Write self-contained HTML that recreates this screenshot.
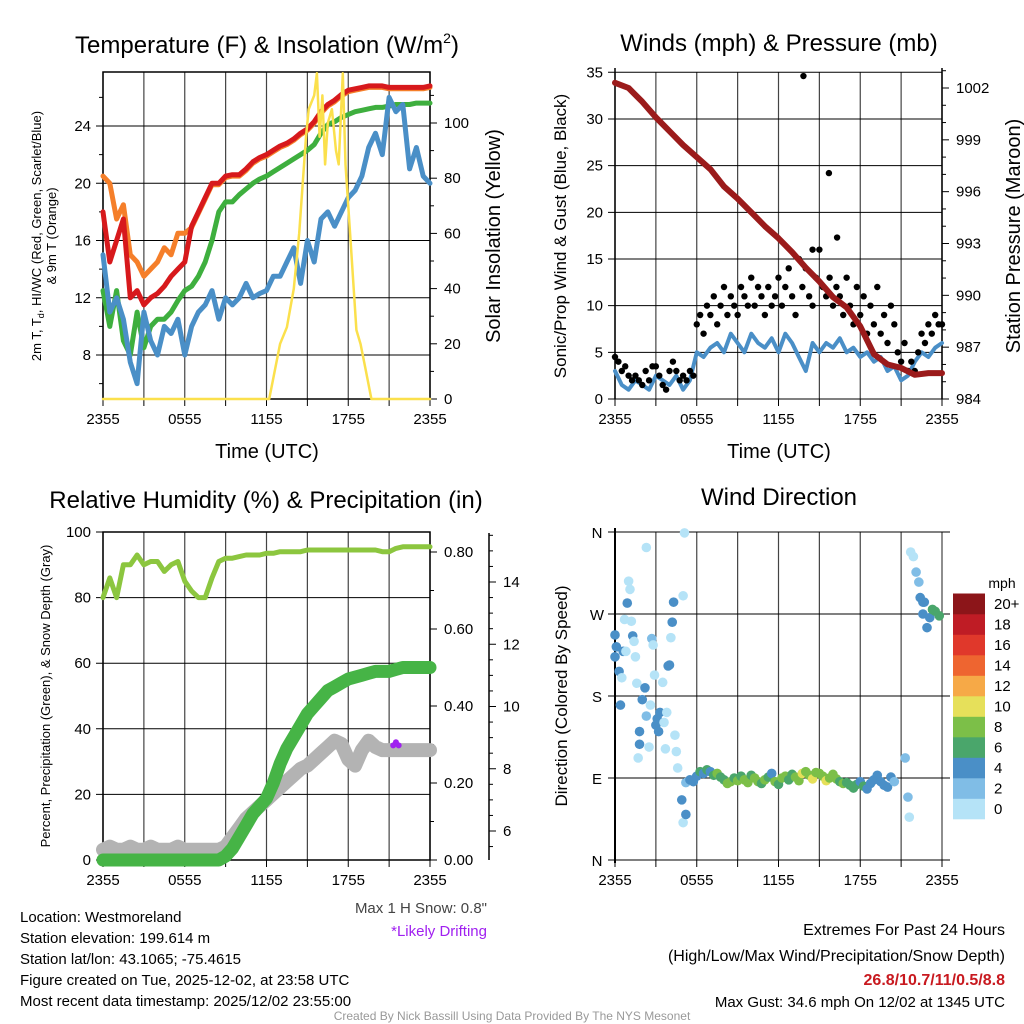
<!DOCTYPE html>
<html><head><meta charset="utf-8"><style>
body{margin:0;background:#fff}
svg{display:block;font-family:"Liberation Sans",sans-serif}
</style></head><body>
<svg id="s" width="1024" height="1024" viewBox="0 0 1024 1024" xmlns="http://www.w3.org/2000/svg">
<rect width="1024" height="1024" fill="#fff"/>
<g id="g"></g>
<text x="267" y="53" font-size="24" text-anchor="middle">Temperature (F) &amp; Insolation (W/m<tspan font-size="14" dy="-10">2</tspan><tspan dy="10">)</tspan></text>
<text x="779" y="51" font-size="24" text-anchor="middle">Winds (mph) &amp; Pressure (mb)</text>
<text x="266" y="508" font-size="24" text-anchor="middle">Relative Humidity (%) &amp; Precipitation (in)</text>
<text x="779" y="505" font-size="24" text-anchor="middle">Wind Direction</text>
<text x="267" y="458" font-size="20" text-anchor="middle">Time (UTC)</text>
<text x="779" y="458" font-size="20" text-anchor="middle">Time (UTC)</text>
<text transform="translate(41,236) rotate(-90)" font-size="13" text-anchor="middle">2m T, T<tspan font-size="9" dy="3">d</tspan><tspan dy="-3">, HI/WC (Red, Green, Scarlet/Blue)</tspan></text>
<text transform="translate(56,236) rotate(-90)" font-size="13" text-anchor="middle">&amp; 9m T (Orange)</text>
<text transform="translate(500,236) rotate(-90)" font-size="20" text-anchor="middle">Solar Insolation (Yellow)</text>
<text transform="translate(566,236) rotate(-90)" font-size="17" text-anchor="middle">Sonic/Prop Wind &amp; Gust (Blue, Black)</text>
<text transform="translate(1020,236) rotate(-90)" font-size="20" text-anchor="middle">Station Pressure (Maroon)</text>
<text transform="translate(50,696) rotate(-90)" font-size="13" text-anchor="middle">Percent, Precipitation (Green), &amp; Snow Depth (Gray)</text>
<text transform="translate(567,696) rotate(-90)" font-size="17" text-anchor="middle">Direction (Colored By Speed)</text>
<text x="1002" y="588" font-size="14" text-anchor="middle">mph</text>
<g font-size="15">
<text x="20" y="922">Location: Westmoreland</text>
<text x="20" y="943">Station elevation: 199.614 m</text>
<text x="20" y="964">Station lat/lon: 43.1065; -75.4615</text>
<text x="20" y="985">Figure created on Tue, 2025-12-02, at 23:58 UTC</text>
<text x="20" y="1006">Most recent data timestamp: 2025/12/02 23:55:00</text>
</g>
<text x="487" y="913" font-size="15" fill="#444" text-anchor="end">Max 1 H Snow: 0.8"</text>
<text x="487" y="936" font-size="15" fill="#a020f0" text-anchor="end">*Likely Drifting</text>
<g font-size="16" text-anchor="end">
<text x="1005" y="935">Extremes For Past 24 Hours</text>
<text x="1005" y="961">(High/Low/Max Wind/Precipitation/Snow Depth)</text>
<text x="1005" y="985" fill="#c8191f" font-weight="bold">26.8/10.7/11/0.5/8.8</text>
<text x="1005" y="1007" font-size="15">Max Gust: 34.6 mph On 12/02 at 1345 UTC</text>
</g>
<text x="512" y="1020" font-size="12" fill="#999" text-anchor="middle">Created By Nick Bassill Using Data Provided By The NYS Mesonet</text>
</svg>
<script>
// ---- data ----
const timeTicks=["2355","0555","1155","1755","2355"];
const tempTicks=[8,12,16,20,24];
const solarTicks=[0,20,40,60,80,100];
const windTicks=[0,5,10,15,20,25,30,35];
const presTicks=[984,987,990,993,996,999,1002];
const rhTicks=[0,20,40,60,80,100];
const precipTicks=["0.00","0.20","0.40","0.60","0.80"];
const snowTicks=[6,8,10,12,14];
const dirTicks=["N","E","S","W","N"];
const speedBins=["0","2","4","6","8","10","12","14","16","18","20+"];
const tRed=[18,14.5,16,17.5,12,12.5,11.5,12,12.3,12.8,13.5,14,14.5,17,18,19,20,20,20.5,20.6,20.6,21,21.5,21.8,22,22.3,22.6,22.8,23.1,23.5,23.8,24.3,25,25.5,25.8,26.2,26.5,26.6,26.7,26.8,26.8,26.8,26.7,26.7,26.7,26.7,26.7,26.7,26.8];
const tOrange=[20.5,20,17.5,18.5,15,14.5,13.5,14,14.5,15.5,15,16.5,16.5,16.9,17.9,18.9,19.9,19.9,20.4,20.5,20.5,20.9,21.4,21.7,21.9,22.2,22.5,22.7,23,23.4,23.7,24.2,24.9,25.4,25.7,26.1,26.4,26.5,26.6,26.7,26.7,26.7,26.6,26.6,26.6,26.6,26.6,26.6,26.7];
const tGreen=[12.5,10,12.5,9,8,11,8.5,10,10.5,10.5,11,11.8,12.5,12.8,13.5,14.5,16,18,18.7,18.7,19.2,19.6,20,20.3,20.5,20.8,21.1,21.4,21.7,22,22.3,22.7,23.5,24.1,24.3,24.6,24.8,25,25.1,25.2,25.3,25.3,25.4,25.5,25.5,25.5,25.6,25.6,25.6];
const tBlue=[15,11,12,10.5,7.5,6,11,9,8,10,9.5,10.5,8,10,11,11.5,12.5,10.5,12,11.5,12,13,12,12.3,12.5,13.5,13.5,14.5,15.5,13,16,14.5,17.5,18,17,18,19,19.5,20.5,22.5,23.5,22,26,25,25.5,21,22.5,20.5,20];
const solarH=[0,12.2,13,13.5,14,14.4,14.9,15.1,15.5,15.7,15.9,16.1,16.3,16.5,16.8,17.1,17.3,17.6,17.8,18.2,18.6,18.9,19.3,19.7,24];
const solarV=[0,0,20,26,40,60,95,105,110,118,95,110,85,100,105,90,85,118,85,55,25,20,10,0,0];
const presV=[1002.3,1002,1001.2,1000.3,999.5,998.7,998,997.3,996.3,995.6,994.8,994,993.3,992.5,991.6,990.8,989.9,989.3,988.2,986.6,986,985.8,985.4,985.5,985.5];
const windV=[3,1.5,1,2,1.5,1,2.5,2,1.5,2.5,1,2,5,4.5,5.5,6,5,7,6,5,7,6,5.5,6.5,5,7,6,4.5,3,6,5,6,5.5,6.5,5,5.5,4.5,5,4,4.5,3,3.5,2,2.5,4,5,4.5,5.5,6];
const gustV=[4.5,4,3,3.5,2.5,2,2.5,2,1.5,3,2,3.5,3.5,2.5,1.5,1,3,4,3,2,2.5,2,3,2.5,8,9,7,10,9,11,8,10,12,9,11,10,9,12,11,10,13,10,12,11,9,12,10,11,13,10,12,14,11,9,15,12,14,11,10,13,16,12,11,13,10,12,11,9,13,10,8,12,9,11,7,10,8,12,7,9,6,10,8,5,4,6,3,4,3,5,7,6,8,7,9,8,8];
const peakH=[13.83,15.7,16.3,14.5];
const peakV=[34.6,24.2,17.3,16];
const rhV=[80,86,80,90,90,93,90,91,91,88,90,91,85,82,80,80,86,91,92,92,92.5,93,93,93,93.5,93.5,94,94,94,94,94.5,94.5,94.5,94.5,94.5,94.5,94.5,94.5,94.5,94.5,94.5,94,94,95,95.5,95.5,95.5,95.5,95.5];
const precipV=[0,0,0,0,0,0,0,0,0,0,0,0,0,0,0,0,0,0,0.01,0.03,0.06,0.09,0.12,0.14,0.16,0.2,0.25,0.29,0.32,0.35,0.38,0.4,0.42,0.44,0.45,0.46,0.47,0.475,0.48,0.485,0.49,0.49,0.49,0.495,0.5,0.5,0.5,0.5,0.5];
const snowV=[5.4,5.5,5.4,5.4,5.5,5.4,5.4,5.5,5.4,5.4,5.4,5.5,5.4,5.4,5.4,5.4,5.4,5.4,5.5,5.8,6.1,6.4,6.6,6.8,7,7.2,7.4,7.6,7.8,8,8.1,8.3,8.5,8.7,8.9,8.8,8.3,8.1,8.6,8.9,8.7,8.6,8.6,8.6,8.6,8.6,8.6,8.6,8.6];
const driftH=[21.3,21.5,21.7];
const driftV=[8.75,8.85,8.75];
const dirH=[0,0.1,0,0.3,0.4,0.5,0.6,0.7,0.8,0.9,1,1.1,1.2,1.3,1.4,1.5,1.6,1.7,1.8,1.8,2,2.2,2.3,2.3,2.5,2.6,2.7,2.8,2.9,3,3.1,3.2,3.3,3.5,3.6,3.7,3.8,3.9,4,4.1,4.2,4.3,4.4,4.5,4.6,4.9,5,5,5.1,5.2,5.2,
5.5,5.75,6,6.25,6.5,6.75,7,7.25,7.5,7.75,8,8.25,8.5,8.75,9,9.25,9.5,9.75,10,10.25,10.5,10.75,11,11.25,11.5,11.75,12,12.25,12.5,12.75,13,13.25,13.5,13.75,14,14.25,14.5,14.75,15,15.25,15.5,15.75,16,16.25,16.5,16.75,17,17.25,17.5,17.75,18,18.25,18.5,18.75,19,19.25,19.5,19.75,20,20.25,20.5,
21.3,21.5,21.6,21.7,21.9,22.1,22.3,22.4,22.6,22.6,22.7,22.9,23.1,23.3,23.5,23.8];
const dirDeg=[247,234,223,207,170,200,229,264,229,282,306,297,262,246,240,223,194,112,141,127,176,189,158,343,124,170,243,236,203,148,155,141,162,195,151,122,162,213,214,244,261,283,137,119,101,66,290,41,359,50,85,
88,86,92,97,95,99,97,93,95,91,88,84,86,90,87,92,88,85,93,90,86,84,88,91,95,86,83,90,92,88,94,91,87,95,97,93,89,96,95,92,87,90,94,89,86,84,85,82,79,83,86,81,78,84,88,93,86,82,80,91,86,
112,69,47,338,333,316,305,288,283,270,283,255,266,275,273,268];
const dirSpd=[4,4,4,4,4,0.5,4,0.5,0.5,4,0.5,0.5,0.5,4,0.5,0.5,0.5,0.5,4,4,4,4,2,0.5,0.5,0.5,2,0.5,0.5,4,4,4,4,0.5,0.5,0.5,0.5,4,4,0.5,4,4,0.5,0.5,0.5,4,0.5,0.5,0.5,4,2,
4,4,4,6,4,6,4,6,8,6,6,8,8,6,8,6,8,8,6,8,8,6,8,6,4,8,6,8,8,6,6,8,8,10,8,8,10,8,8,8,10,8,8,8,6,8,6,6,6,6,4,6,4,4,4,4,4,4,4,4,2,
2,2,0.5,0.5,0.5,2,2,4,4,4,4,4,4,6,6,6];
const binColors=["#b5e3f7","#80bde6","#4a8fc7","#4aa66b","#7cbf48","#e6e05a","#f6a947","#ee6530","#e0382b","#bf1c25","#8c1519"];

// ---- helpers ----
const NS="http://www.w3.org/2000/svg";
const G=document.getElementById('g');
function mk(tag,attrs,name,parent){const e=document.createElementNS(NS,tag);for(const k in attrs)e.setAttribute(k,attrs[k]);


(parent||G).appendChild(e);return e;}
function lin(d0,d1,r0,r1){return v=>r0+(v-d0)*(r1-r0)/(d1-d0);}
function txt(x,y,s,anchor,name,size){const t=mk('text',{x:x,y:y,'font-size':size||15,'text-anchor':anchor||'middle'},name);t.textContent=s;return t;}
function poly(xs,ys,color,w,name,opacity){const p=xs.map((x,i)=>x.toFixed(1)+','+ys[i].toFixed(1)).join(' ');
mk('polyline',{points:p,fill:'none',stroke:color,'stroke-width':w,'stroke-linejoin':'round','stroke-linecap':'round',opacity:opacity||1},name);}
const half=n=>Array.from({length:n},(_,i)=>i*0.5);
const quarter=n=>Array.from({length:n},(_,i)=>i*0.25);

function frame(L,T,R,B,xs,name,box){
  for(let h=0;h<=24;h+=3){const x=xs(h);mk('line',{x1:x,y1:T,x2:x,y2:B,stroke:'#444','stroke-width':1.2},name+'-vgrid');
    mk('line',{x1:x,y1:B,x2:x,y2:B+7,stroke:'#000','stroke-width':1},name+'-xtick');}
  timeTicks.forEach((s,i)=>txt(xs(i*6),B+25,s,'middle',name+'-xlabel',15));
  if(box)mk('rect',{x:L,y:T,width:R-L,height:B-T,fill:'none',stroke:'#000','stroke-width':1.5},name+'-frame');
}
function hgrid(L,R,y,ext,name){mk('line',{x1:L-7,y1:y,x2:R+ext,y2:y,stroke:'#000','stroke-width':1},name);}

// ---- Panel 1: temperature ----
{const L=103,T=72,R=430,B=399;const x=lin(0,24,L,R);const y=lin(8,24,355,126);const ys=lin(0,100,399,123);
 frame(L,T,R,B,x,'temp',true);
 tempTicks.forEach(v=>{hgrid(L,R,y(v),0,'temp-hgrid');txt(L-12,y(v)+5,String(v),'end','temp-ylabel',15);});
 for(let v=6;v<=26;v+=4)mk('line',{x1:L-4,y1:y(v),x2:L,y2:y(v),stroke:'#000'},'temp-minor-tick');
 solarTicks.forEach(v=>{mk('line',{x1:R,y1:ys(v),x2:R+7,y2:ys(v),stroke:'#000'},'solar-tick');txt(R+14,ys(v)+5,String(v),'start','solar-label',15);});
 for(let v=10;v<=110;v+=20)mk('line',{x1:R,y1:ys(v),x2:R+4,y2:ys(v),stroke:'#000'},'solar-minor-tick');
 const hh=half(49);
 poly(hh.map(x),tOrange.map(y),'#f57f2a',5,'temp-9m-orange');
 poly(hh.map(x),tRed.map(y),'#d7191c',5,'temp-2m-red');
 poly(hh.map(x),tGreen.map(y),'#3eaf3e',5,'dewpoint-green');
 poly(hh.map(x),tBlue.map(y),'#4a8fc7',5,'windchill-blue');
 poly(solarH.map(x),solarV.map(ys),'#fbe04c',2.5,'solar-yellow');
}
// ---- Panel 2: winds ----
{const L=615,T=72,R=942,B=399;const x=lin(0,24,L,R);const y=lin(0,35,399,72.3);const yp=lin(984,1002,399,88);
 frame(L,T,R,B,x,'wind',false);
 mk('line',{x1:L,y1:T-4,x2:L,y2:B,stroke:'#000','stroke-width':1.5},'wind-left-axis');
 mk('line',{x1:R,y1:T-4,x2:R,y2:B,stroke:'#000','stroke-width':1.5},'wind-right-axis');
 windTicks.forEach(v=>{hgrid(L,R,y(v),0,'wind-hgrid');txt(L-12,y(v)+5,String(v),'end','wind-ylabel',15);});
 presTicks.forEach(v=>{mk('line',{x1:R,y1:yp(v),x2:R+7,y2:yp(v),stroke:'#000'},'pres-tick');txt(R+14,yp(v)+5,String(v),'start','pres-label',15);});
 for(let v=985;v<=1003;v+=1)if((v-984)%3)mk('line',{x1:R,y1:yp(v),x2:R+4,y2:yp(v),stroke:'#000'},'pres-minor-tick');
 poly(half(49).map(x),windV.map(y),'#4a8fc7',4,'wind-speed-blue');
 quarter(97).forEach((h,i)=>mk('circle',{cx:x(h),cy:y(gustV[i]),r:3.2,fill:'#000'},'gust-dot'));
 peakH.forEach((h,i)=>mk('circle',{cx:x(h),cy:y(peakV[i]),r:3.2,fill:'#000'},'gust-peak-dot'));
 poly(presV.map((v,i)=>x(i)),presV.map(yp),'#9b1b1b',6,'pressure-maroon');
}
// ---- Panel 3: RH ----
{const L=103,T=532,R=430,B=860;const x=lin(0,24,L,R);const y=lin(0,100,860,532);const yp=lin(0,0.8,860,552);const ysn=lin(6,14,831,582);
 frame(L,T,R,B,x,'rh',true);
 rhTicks.forEach(v=>{hgrid(L,R,y(v),0,'rh-hgrid');txt(L-12,y(v)+5,String(v),'end','rh-ylabel',15);});
 precipTicks.forEach(s=>{const v=parseFloat(s);mk('line',{x1:R,y1:yp(v),x2:R+7,y2:yp(v),stroke:'#000'},'precip-tick');txt(R+14,yp(v)+5,s,'start','precip-label',15);});
 for(let v=0.1;v<0.85;v+=0.2)mk('line',{x1:R,y1:yp(v),x2:R+4,y2:yp(v),stroke:'#000'},'precip-minor-tick');
 mk('line',{x1:489,y1:533,x2:489,y2:B,stroke:'#000','stroke-width':1.5},'snow-axis');
 snowTicks.forEach(v=>{mk('line',{x1:489,y1:ysn(v),x2:496,y2:ysn(v),stroke:'#000'},'snow-tick');txt(503,ysn(v)+5,String(v),'start','snow-label',15);});
 for(let v=5.5;v<=15.5;v+=0.5)if(v%2)mk('line',{x1:489,y1:ysn(v),x2:493,y2:ysn(v),stroke:'#000'},'snow-minor-tick');
 const hh=half(49);
 poly(hh.map(x),snowV.map(ysn),'#b3b3b3',14,'snow-depth-gray');
 poly(hh.map(x),precipV.map(yp),'#46b446',13,'precip-green');
 poly(hh.map(x),rhV.map(y),'#8cc63f',5,'rh-lightgreen');
 driftH.forEach((h,i)=>mk('circle',{cx:x(h),cy:ysn(driftV[i]),r:3,fill:'#a020f0'},'drift-marker'));
}
// ---- Panel 4: wind direction ----
{const L=615,T=532,R=942,B=860;const x=lin(0,24,L,R);const y=lin(0,360,860,532);
 frame(L,T,R,B,x,'dir',false);
 mk('line',{x1:L,y1:T-4,x2:L,y2:B+3,stroke:'#000','stroke-width':2},'dir-left-axis');
 dirTicks.forEach((s,i)=>{hgrid(L,R,y(i*90),8,'dir-hgrid');txt(L-18,y(i*90)+6,s,'middle','dir-ylabel',15);});
 dirH.forEach((h,i)=>{const c=binColors[Math.min(10,Math.round(dirSpd[i]/2))];
   mk('circle',{cx:x(h),cy:y(dirDeg[i]),r:4.8,fill:c},'dir-point');});
 const cb0=819,bh=20.5;
 speedBins.forEach((s,i)=>{mk('rect',{x:953,y:cb0-(i+1)*bh,width:32,height:bh+0.3,fill:binColors[i]},'colorbar-box');
   txt(994,cb0-(i+0.5)*bh+5,s,'start','colorbar-label',15);});
}
</script>
</body></html>
